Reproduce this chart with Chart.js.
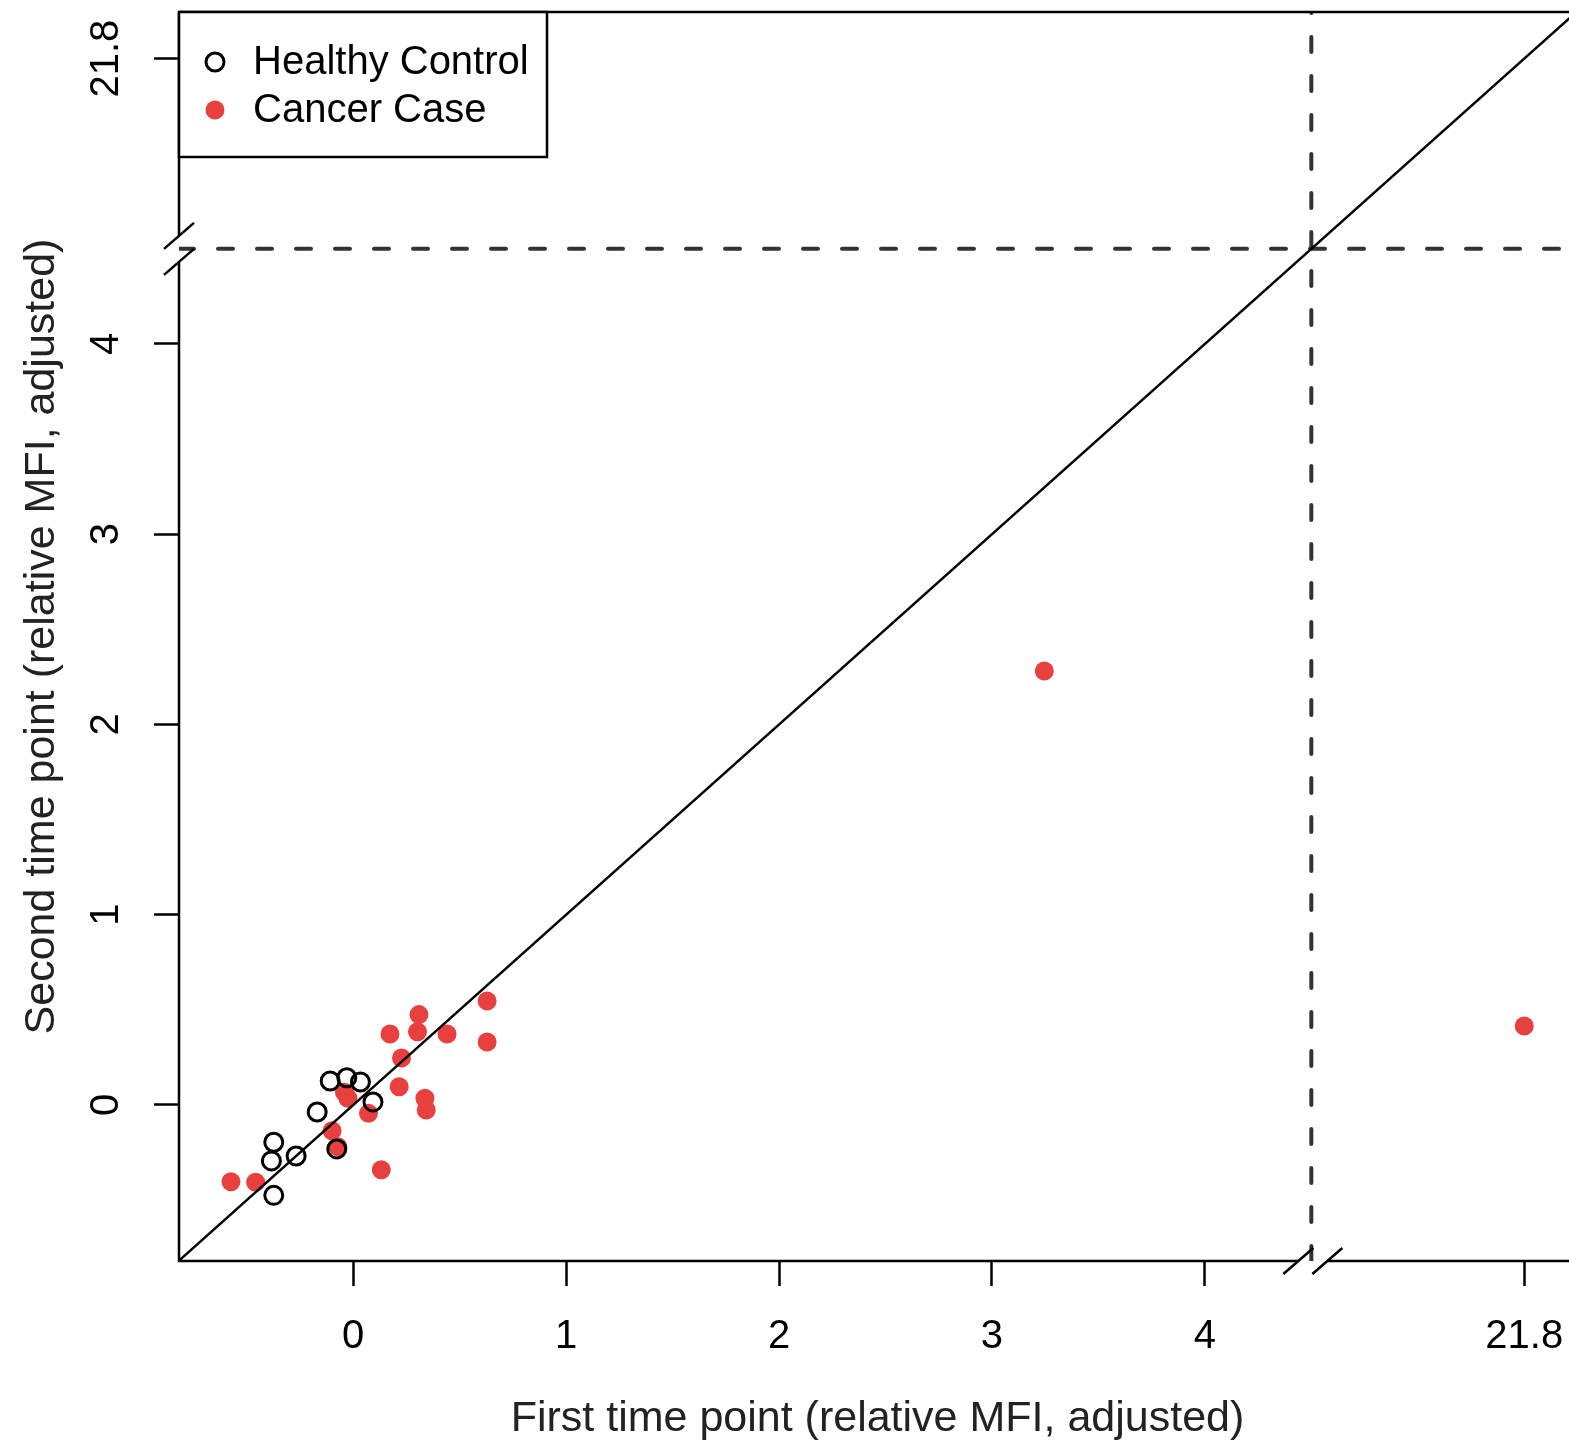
<!DOCTYPE html>
<html>
<head>
<meta charset="utf-8">
<script src="https://cdn.jsdelivr.net/npm/chart.js@4.4.0/dist/chart.umd.min.js"></script>
<style>
  html, body { margin: 0; padding: 0; background: #fff; overflow: hidden; }
  #plot { display: block; width: 1588px; height: 1441px; }
</style>
</head>
<body>
<!-- canvas is a bit wider than the window: the plot box runs past the right edge -->
<canvas id="plot" width="1588" height="1441"></canvas>
<script>
// healthy controls (open circles)
const controlX = [-0.108, -0.030, 0.034, 0.093, -0.169, -0.373, -0.384, -0.268, -0.077, -0.373];
const controlY = [0.126, 0.143, 0.121, 0.016, -0.037, -0.196, -0.294, -0.268, -0.231, -0.475];
// cancer cases (red dots)
const caseX = [0.629, 0.629, 0.309, 0.302, 0.173, 0.441, 0.227, 0.216, 0.337, 0.343,
               -0.041, -0.025, 0.072, -0.099, -0.072, 0.132, -0.574, -0.458, 3.246, 21.8];
const caseY = [0.547, 0.331, 0.475, 0.385, 0.373, 0.373, 0.247, 0.096, 0.035, -0.026,
               0.067, 0.035, -0.044, -0.135, -0.219, -0.340, -0.403, -0.406, 2.281, 0.415];
// tick labels, same on both axes (21.8 sits past the break)
const tickValues = [0, 1, 2, 3, 4, 21.8];

const BREAK_AT = 4.5;
const BREAK_SHIFT = 16.3;   // 21.8 is drawn at 5.5
function toPos(v) { return v > BREAK_AT ? v - BREAK_SHIFT : v; }

const xMin = -0.818, xMax = 5.743;
const yMin = -0.82, yMax = 5.745;

const FONT = "'Liberation Sans', Arial, sans-serif";
const RED = '#e8403f';

function pts(xs, ys) {
  return xs.map((x, i) => ({x: toPos(x), y: toPos(ys[i])}));
}
function tickLabel(val) {
  const i = tickValues.map(toPos).indexOf(val);
  return i < 0 ? '' : String(tickValues[i]);
}
function setTicks(scale) {
  scale.ticks = tickValues.map(v => ({value: toPos(v)}));
}

// box with breaks, legend
const decor = {
  id: 'decor',
  afterDraw(chart) {
    const ctx = chart.ctx;
    const a = chart.chartArea;
    const bx = chart.scales.x.getPixelForValue(BREAK_AT) + 1.5;
    const by = chart.scales.y.getPixelForValue(BREAK_AT);
    ctx.save();
    ctx.strokeStyle = '#000';
    ctx.lineWidth = 2.5;
    ctx.beginPath();
    // top and right
    ctx.moveTo(a.left, a.top); ctx.lineTo(a.right, a.top); ctx.lineTo(a.right, a.bottom);
    // bottom with gap
    ctx.moveTo(a.right, a.bottom); ctx.lineTo(bx + 14.5, a.bottom);
    ctx.moveTo(bx - 14.5, a.bottom); ctx.lineTo(a.left, a.bottom);
    // left with gap
    ctx.lineTo(a.left, by + 13);
    ctx.moveTo(a.left, by - 13); ctx.lineTo(a.left, a.top);
    ctx.stroke();
    // slashes
    ctx.beginPath();
    [-14.5, 14.5].forEach(d => {
      ctx.moveTo(bx + d - 15, a.bottom + 13); ctx.lineTo(bx + d + 15, a.bottom - 13);
    });
    [-13, 13].forEach(d => {
      ctx.moveTo(a.left - 15, by + d + 13); ctx.lineTo(a.left + 15, by + d - 13);
    });
    ctx.stroke();

    // legend
    const lx = a.left, ly = a.top;
    ctx.fillStyle = '#fff';
    ctx.fillRect(lx, ly, 368, 145);
    ctx.strokeRect(lx, ly, 368, 145);
    ctx.lineWidth = 3;
    ctx.beginPath();
    ctx.arc(lx + 36, ly + 50, 9, 0, Math.PI * 2);
    ctx.stroke();
    ctx.fillStyle = RED;
    ctx.beginPath();
    ctx.arc(lx + 36, ly + 98, 9.5, 0, Math.PI * 2);
    ctx.fill();
    ctx.fillStyle = '#000';
    ctx.font = '40px ' + FONT;
    ctx.textBaseline = 'middle';
    ctx.fillText('Healthy Control', lx + 74, ly + 51);
    ctx.fillText('Cancer Case', lx + 74, ly + 99);
    ctx.restore();
  }
};

new Chart(document.getElementById('plot'), {
  type: 'scatter',
  data: {
    datasets: [
      {
        label: 'diagonal',
        data: [{x: -1, y: -1}, {x: 6, y: 6}],
        showLine: true, pointRadius: 0, borderColor: '#000', borderWidth: 2.5,
        order: 0
      },
      {
        label: 'vbreak',
        data: [{x: BREAK_AT, y: yMin}, {x: BREAK_AT, y: yMax}],
        showLine: true, pointRadius: 0, borderColor: '#333', borderWidth: 4,
        borderDash: [15, 24], borderCapStyle: 'round', order: 0
      },
      {
        label: 'hbreak',
        data: [{x: xMin, y: BREAK_AT}, {x: xMax, y: BREAK_AT}],
        showLine: true, pointRadius: 0, borderColor: '#333', borderWidth: 4,
        borderDash: [15, 24], borderCapStyle: 'round', order: 0
      },
      {
        label: 'Healthy Control',
        data: pts(controlX, controlY),
        pointRadius: 9, pointBorderWidth: 3,
        pointBackgroundColor: 'rgba(0,0,0,0)', pointBorderColor: '#000',
        order: 1
      },
      {
        label: 'Cancer Case',
        data: pts(caseX, caseY),
        pointRadius: 9.5, pointBorderWidth: 0,
        pointBackgroundColor: RED, pointBorderColor: RED,
        order: 2
      }
    ]
  },
  options: {
    responsive: false,
    devicePixelRatio: 1,
    animation: false,
    layout: {padding: {top: 12, right: 0, left: 0, bottom: 0}},
    plugins: {legend: {display: false}, tooltip: {enabled: false}},
    scales: {
      x: {
        type: 'linear', min: xMin, max: xMax,
        afterBuildTicks: setTicks,
        afterFit(s) { s.height = 180; s.paddingLeft = 0; s.paddingRight = 0; },
        border: {display: false},
        grid: {drawOnChartArea: false, drawTicks: true, tickLength: 25,
               tickColor: '#000', tickWidth: 2.5},
        ticks: {callback: tickLabel, color: '#000', font: {family: FONT, size: 40},
                maxRotation: 0, autoSkip: false, padding: 27},
        title: {display: true, text: 'First time point (relative MFI, adjusted)',
                color: '#222', font: {family: FONT, size: 43, lineHeight: 1.0},
                padding: {top: 0, bottom: 0}}
      },
      y: {
        type: 'linear', min: yMin, max: yMax,
        afterBuildTicks: setTicks,
        afterFit(s) { s.width = 179; s.paddingTop = 0; s.paddingBottom = 0; },
        border: {display: false},
        grid: {drawOnChartArea: false, drawTicks: true, tickLength: 25,
               tickColor: '#000', tickWidth: 2.5},
        ticks: {callback: tickLabel, color: '#000', font: {family: FONT, size: 40},
                minRotation: 90, maxRotation: 90, crossAlign: 'center',
                autoSkip: false, padding: 8},
        title: {display: true, text: 'Second time point (relative MFI, adjusted)',
                color: '#222', font: {family: FONT, size: 43}, padding: {top: 16, bottom: 0}}
      }
    }
  },
  plugins: [decor]
});
</script>
</body>
</html>
